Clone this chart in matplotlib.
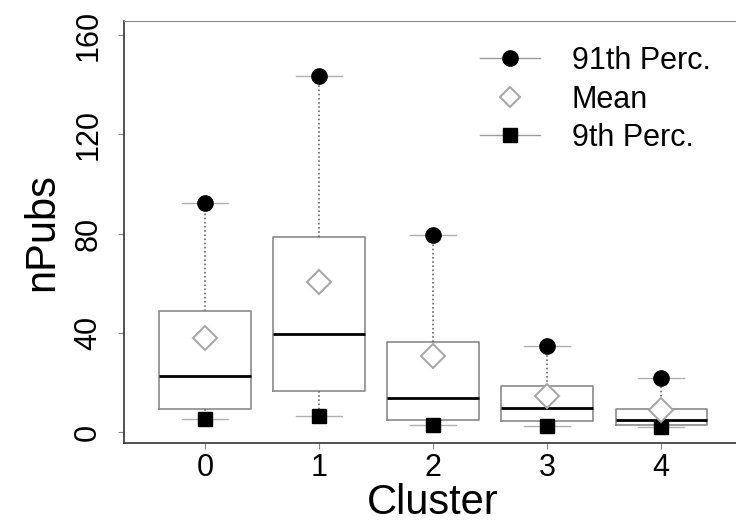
import matplotlib
matplotlib.use("Agg")
import matplotlib.pyplot as plt
from matplotlib.lines import Line2D

plt.rcParams['font.family'] = ['Liberation Sans', 'DejaVu Sans']

clusters = [0, 1, 2, 3, 4]
q1 = [9.5, 16.7, 4.8, 4.6, 2.8]
median = [22.8, 39.5, 13.8, 9.6, 4.8]
q3 = [49.0, 78.8, 36.5, 18.6, 9.2]
p9 = [5.2, 6.5, 2.8, 2.5, 2.0]
p91 = [92.5, 143.5, 79.5, 34.5, 21.7]
means = [37.8, 60.5, 30.6, 14.7, 9.0]

fig = plt.figure(figsize=(7.36, 5.30), dpi=100)
ax = fig.add_axes([124/736, 1-443/530, (741-124)/736, (443-21)/530])

stats = []
for i in range(len(clusters)):
    stats.append(dict(med=median[i], q1=q1[i], q3=q3[i],
                      whislo=p9[i], whishi=p91[i], fliers=[]))

ax.bxp(stats, positions=clusters, widths=0.8, capwidths=0.4,
       showfliers=False, patch_artist=False,
       boxprops=dict(color='#8a8a8a', lw=1.2),
       medianprops=dict(color='black', lw=2.0),
       whiskerprops=dict(color='#6a6a6a', lw=1.2, linestyle=(0, (1, 1.5))),
       capprops=dict(color='#b0b0b0', lw=1.0))

ax.plot(clusters, p91, 'o', color='black', ms=11, zorder=5)
ax.plot(clusters, p9, 's', color='black', ms=10, zorder=5)
ax.plot(clusters, means, 'D', mfc='white', mec='#a8a8a8', mew=1.5, ms=12, zorder=5)

ax.set_xlim(-0.71, 4.70)
ax.set_ylim(-4.4, 165.7)
ax.set_xticks(clusters)
ax.set_xticklabels([str(c) for c in clusters])
ax.set_yticks([0, 40, 80, 120, 160])
ax.tick_params(axis='both', labelsize=22, length=4, width=0.8, color='#888888')
ax.tick_params(axis='x', pad=3)
ax.tick_params(axis='y', pad=11)
for lab in ax.get_yticklabels():
    lab.set_rotation(90)
    lab.set_va('center')
ax.set_xlabel('Cluster', fontsize=30, labelpad=0)
ax.set_ylabel('nPubs', fontsize=30, labelpad=8)

for s in ['left', 'bottom']:
    ax.spines[s].set_color('#333333')
    ax.spines[s].set_linewidth(1.2)
ax.spines['top'].set_color('#888888')
ax.spines['right'].set_visible(False)

handles = [
    Line2D([], [], color='#9a9a9a', lw=1.0, marker='o', mfc='black', mec='black', ms=11),
    Line2D([], [], color='none', marker='D', mfc='white', mec='#a8a8a8', mew=1.5, ms=10),
    Line2D([], [], color='#9a9a9a', lw=1.0, marker='s', mfc='black', mec='black', ms=10),
]
labels = ['91th Perc.', 'Mean', '9th Perc.']
ax.legend(handles, labels, loc='upper left', bbox_to_anchor=(480/736, 1-46/530),
          bbox_transform=fig.transFigure, frameon=False, fontsize=22,
          handlelength=1.95, handletextpad=1.05, labelspacing=0.28,
          borderpad=0, borderaxespad=0)

fig.savefig('out.png', dpi=100)
